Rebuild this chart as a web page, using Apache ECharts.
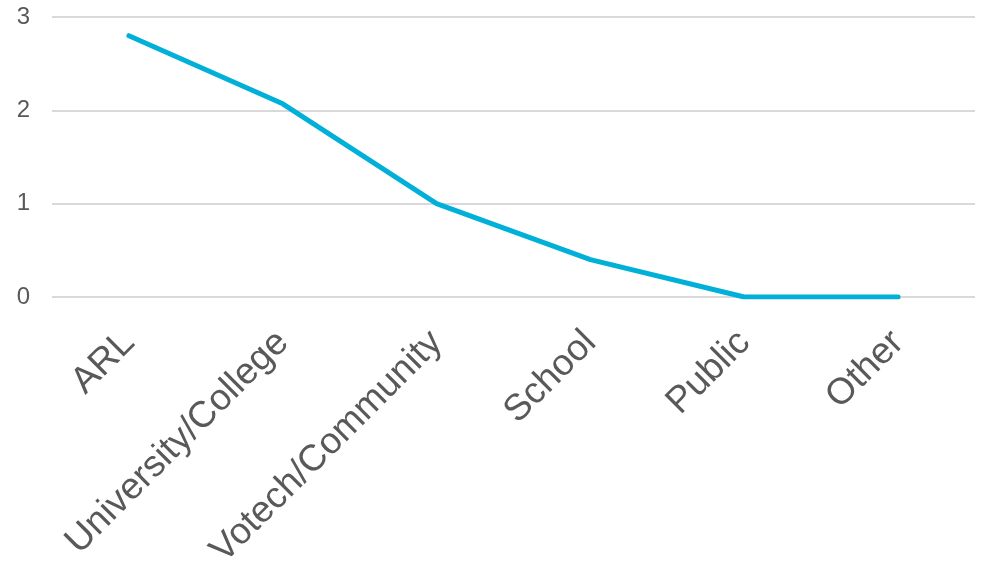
<!DOCTYPE html>
<html><head><meta charset="utf-8">
<script src="https://cdn.jsdelivr.net/npm/echarts@6/dist/echarts.min.js"></script>
<style>html,body{margin:0;padding:0;background:#fff}#c{width:983px;height:561px}</style>
</head><body><div id="c"></div>
<script>
const categories = ["ARL","University/College","Votech/Community","School","Public","Other"];
const values = [2.8, 2.07, 1.0, 0.4, 0, 0];
const yTicks = [0, 1, 2, 3];

const chart = echarts.init(document.getElementById('c'), null, {renderer:'canvas'});
chart.setOption({
  animation:false,
  backgroundColor:'#fff',
  grid:{left:52,right:8,top:17,bottom:264,containLabel:false,outerBoundsMode:'none'},
  xAxis:{type:'category',data:categories,boundaryGap:true,
    axisLine:{show:false},axisTick:{show:false},
    axisLabel:{rotate:45,interval:0,color:'#595959',fontSize:37,fontFamily:'Liberation Sans, Arial',margin:40}},
  yAxis:{type:'value',min:yTicks[0],max:yTicks[yTicks.length-1],interval:1,
    axisLine:{show:false},axisTick:{show:false},
    splitLine:{lineStyle:{color:'#d9d9d9',width:2}},
    axisLabel:{color:'#595959',fontSize:24,fontFamily:'Liberation Sans, Arial',margin:22}},
  series:[{type:'line',data:values,symbol:'none',lineStyle:{color:'#00B0D8',width:5,cap:'round'}}]
});
</script></body></html>
